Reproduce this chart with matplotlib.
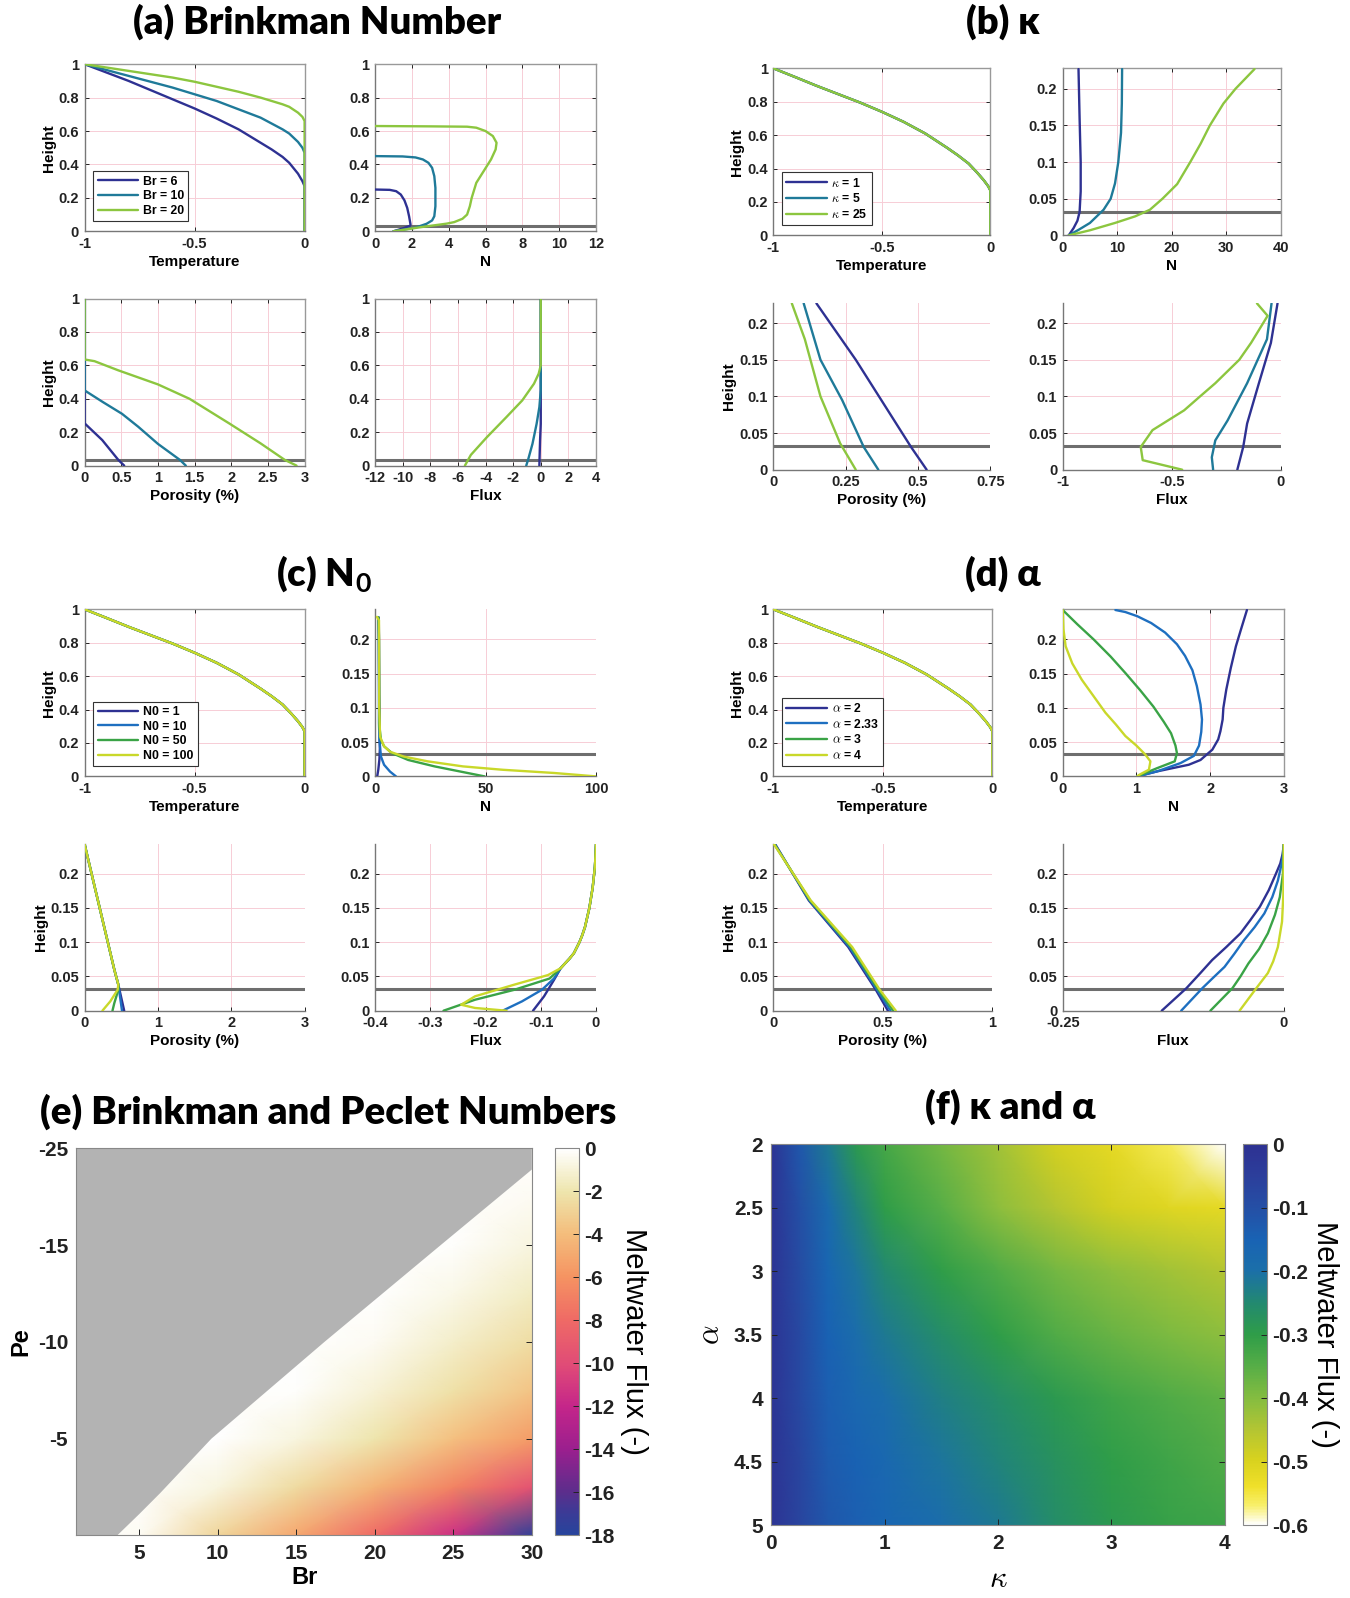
import matplotlib
matplotlib.use('Agg')
import matplotlib.pyplot as plt
import numpy as np
from matplotlib.colors import LinearSegmentedColormap

# ------------------------------------------------------------------ DATA
# (a) Brinkman number
a_labels = ['Br = 6', 'Br = 10', 'Br = 20']
a_temp = [
    [(-1, 1), (-0.8, 0.9), (-0.6, 0.79), (-0.5, 0.735), (-0.4, 0.675), (-0.3, 0.61),
     (-0.2, 0.53), (-0.15, 0.49), (-0.1, 0.445), (-0.07, 0.41), (-0.03, 0.345),
     (-0.01, 0.3), (0, 0.27), (0, 0)],
    [(-1, 1), (-0.8, 0.93), (-0.6, 0.86), (-0.5, 0.82), (-0.4, 0.78), (-0.3, 0.73),
     (-0.2, 0.68), (-0.15, 0.645), (-0.1, 0.61), (-0.07, 0.585), (-0.03, 0.535),
     (-0.01, 0.5), (0, 0.47), (0, 0)],
    [(-1, 1), (-0.8, 0.96), (-0.6, 0.92), (-0.5, 0.895), (-0.4, 0.865), (-0.3, 0.835),
     (-0.2, 0.8), (-0.15, 0.78), (-0.1, 0.76), (-0.07, 0.745), (-0.03, 0.71),
     (-0.01, 0.685), (0, 0.66), (0, 0)],
]
a_N = [
    [(0, 0.25), (0.8, 0.248), (1.15, 0.24), (1.4, 0.22), (1.6, 0.185), (1.75, 0.14),
     (1.85, 0.09), (1.93, 0.04), (1.9, 0.033), (1.5, 0.017), (1.0, 0.0)],
    [(0, 0.45), (1.5, 0.448), (2.2, 0.442), (2.6, 0.43), (2.9, 0.41), (3.1, 0.38),
     (3.22, 0.33), (3.28, 0.26), (3.28, 0.15), (3.22, 0.09), (3.1, 0.065), (2.8, 0.045),
     (2.2, 0.022), (1.0, 0.0)],
    [(0, 0.63), (3, 0.628), (5, 0.626), (5.5, 0.62), (6.0, 0.6), (6.4, 0.57), (6.6, 0.53),
     (6.55, 0.49), (6.3, 0.43), (5.9, 0.36), (5.5, 0.29), (5.25, 0.2), (5.15, 0.15),
     (5.0, 0.1), (4.75, 0.075), (4.3, 0.055), (3.9, 0.046), (2.5, 0.025), (1.0, 0.0)],
]
a_por = [
    [(0, 1), (0, 0.253), (0.24, 0.153), (0.46, 0.034), (0.54, 0)],
    [(0, 1), (0, 0.45), (0.25, 0.38), (0.51, 0.31), (0.73, 0.233), (1.0, 0.13),
     (1.3, 0.034), (1.38, 0)],
    [(0, 1), (0, 0.635), (0.135, 0.625), (0.46, 0.57), (1.0, 0.486), (1.43, 0.40),
     (1.97, 0.253), (2.4, 0.133), (2.73, 0.034), (2.89, 0)],
]
a_flux = [
    [(0, 1), (0, 0.25), (-0.05, 0.15), (-0.1, 0)],
    [(0, 1), (0, 0.45), (-0.1, 0.35), (-0.3, 0.25), (-0.6, 0.13), (-0.9, 0.04), (-1.05, 0)],
    [(0, 1), (0, 0.6), (-0.15, 0.55), (-0.49, 0.49), (-1.34, 0.39), (-2.49, 0.29),
     (-3.9, 0.17), (-5.06, 0.064), (-5.49, 0)],
]

# shared temperature profile of panels (b), (c), (d)
temp_common = [(-1, 1), (-0.9, 0.948), (-0.8, 0.895), (-0.7, 0.845), (-0.6, 0.795),
               (-0.5, 0.74), (-0.4, 0.68), (-0.3, 0.61), (-0.2, 0.525), (-0.15, 0.48),
               (-0.1, 0.43), (-0.06, 0.375), (-0.03, 0.33), (-0.01, 0.295), (0, 0.27), (0, 0)]

# (b) kappa
b_labels = [r'$\kappa$ = 1', r'$\kappa$ = 5', r'$\kappa$ = 25']
b_N = [
    [(1.1, 0), (2, 0.01), (2.7, 0.02), (3.1, 0.032), (3.3, 0.06), (3.3, 0.1), (3.1, 0.16), (2.9, 0.227)],
    [(1.1, 0), (3, 0.008), (5, 0.017), (7.5, 0.035), (8.8, 0.05), (9.6, 0.071), (10.2, 0.1),
     (10.7, 0.14), (10.85, 0.18), (10.9, 0.227)],
    [(1.1, 0), (5, 0.007), (9.6, 0.017), (13.3, 0.026), (16, 0.035), (18.3, 0.05), (21, 0.07),
     (23.4, 0.1), (25.3, 0.125), (27, 0.15), (29.5, 0.18), (31.7, 0.2), (35.2, 0.227)],
]
b_por = [
    [(0.149, 0.227), (0.285, 0.15), (0.476, 0.031), (0.53, 0)],
    [(0.105, 0.227), (0.163, 0.15), (0.238, 0.095), (0.3125, 0.031), (0.363, 0)],
    [(0.064, 0.227), (0.109, 0.178), (0.163, 0.1), (0.231, 0.036), (0.285, 0)],
]
b_flux = [
    [(-0.0145, 0.227), (-0.045, 0.173), (-0.1, 0.118), (-0.154, 0.063), (-0.172, 0.031), (-0.199, 0)],
    [(-0.042, 0.227), (-0.063, 0.178), (-0.154, 0.118), (-0.244, 0.067), (-0.3, 0.04),
     (-0.316, 0.017), (-0.31, 0)],
    [(-0.109, 0.227), (-0.06, 0.21), (-0.136, 0.173), (-0.19, 0.15), (-0.3, 0.118),
     (-0.37, 0.1), (-0.443, 0.081), (-0.588, 0.054), (-0.642, 0.031), (-0.633, 0.013), (-0.452, 0)],
]

# (c) N0
c_labels = ['N0 = 1', 'N0 = 10', 'N0 = 50', 'N0 = 100']
c_N = [
    [(1, 0), (1.5, 0.01), (2, 0.025), (2.2, 0.04), (2.1, 0.07), (1.9, 0.12), (1.8, 0.2), (1.7, 0.232)],
    [(9.5, 0), (6.8, 0.007), (4.1, 0.017), (2.7, 0.029), (2.0, 0.053), (1.8, 0.078), (1.7, 0.2), (1.6, 0.232)],
    [(49.6, 0), (27, 0.0146), (15, 0.024), (7.7, 0.034), (4.1, 0.044), (2.7, 0.053), (2.0, 0.073),
     (1.8, 0.2), (1.6, 0.232)],
    [(100, 0), (81, 0.005), (57.7, 0.0097), (39.8, 0.0146), (23.8, 0.022), (13, 0.029),
     (6.8, 0.036), (4.1, 0.044), (2.3, 0.058), (1.9, 0.1), (1.8, 0.228), (0.9, 0.233)],
]
c_por = [
    [(0, 0.243), (0.405, 0.06), (0.46, 0.038), (0.54, 0)],
    [(0, 0.243), (0.405, 0.06), (0.46, 0.038), (0.51, 0)],
    [(0, 0.243), (0.405, 0.06), (0.46, 0.038), (0.46, 0.0305), (0.405, 0.011), (0.38, 0)],
    [(0, 0.243), (0.405, 0.06), (0.46, 0.038), (0.45, 0.0305), (0.35, 0.0136), (0.243, 0)],
]
c_flux_top = [(0, 0.243), (-0.001, 0.225), (-0.002, 0.21), (-0.004, 0.195), (-0.006, 0.18),
              (-0.009, 0.165), (-0.012, 0.15), (-0.016, 0.136), (-0.02, 0.122), (-0.025, 0.11),
              (-0.03, 0.1), (-0.04, 0.084), (-0.048, 0.076), (-0.055, 0.07), (-0.064, 0.062)]
c_flux_bottom = [
    [(-0.076, 0.045), (-0.094, 0.021), (-0.114, 0)],
    [(-0.076, 0.047), (-0.098, 0.0305), (-0.134, 0.0136), (-0.169, 0)],
    [(-0.084, 0.047), (-0.148, 0.0305), (-0.219, 0.016), (-0.276, 0)],
    [(-0.087, 0.052), (-0.148, 0.038), (-0.219, 0.021), (-0.244, 0.0087), (-0.219, 0.004), (-0.162, 0)],
]

# (d) alpha
d_labels = [r'$\alpha$ = 2', r'$\alpha$ = 2.33', r'$\alpha$ = 3', r'$\alpha$ = 4']
d_N = [
    [(2.5, 0.243), (2.42, 0.215), (2.35, 0.19), (2.28, 0.158), (2.22, 0.127), (2.18, 0.1),
     (2.17, 0.083), (2.14, 0.066), (2.11, 0.054), (2.03, 0.039), (1.87, 0.024), (1.71, 0.017),
     (1.28, 0.0073), (1.01, 0)],
    [(0.715, 0.243), (0.85, 0.24), (1.01, 0.234), (1.2, 0.224), (1.39, 0.21), (1.55, 0.193),
     (1.66, 0.176), (1.76, 0.155), (1.82, 0.132), (1.87, 0.105), (1.89, 0.083), (1.88, 0.065),
     (1.85, 0.045), (1.78, 0.03), (1.6, 0.0195), (1.28, 0.0073), (1.01, 0)],
    [(0, 0.243), (0.2, 0.222), (0.42, 0.2), (0.65, 0.175), (0.85, 0.151), (1.05, 0.126),
     (1.23, 0.102), (1.37, 0.08), (1.47, 0.063), (1.53, 0.045), (1.55, 0.034), (1.52, 0.022),
     (1.28, 0.012), (1.01, 0)],
    [(0, 0.243), (0.01, 0.215), (0.04, 0.19), (0.13, 0.165), (0.26, 0.141), (0.42, 0.117),
     (0.58, 0.093), (0.72, 0.076), (0.85, 0.059), (1.0, 0.045), (1.12, 0.032), (1.19, 0.022),
     (1.17, 0.0098), (1.04, 0.0024), (1.01, 0)],
]
d_por = [
    [(0.009, 0.243), (0.162, 0.161), (0.342, 0.093), (0.468, 0.0305), (0.523, 0)],
    [(0.007, 0.243), (0.165, 0.161), (0.348, 0.093), (0.474, 0.0305), (0.535, 0)],
    [(0.005, 0.243), (0.168, 0.161), (0.354, 0.093), (0.48, 0.0305), (0.547, 0)],
    [(0.003, 0.243), (0.171, 0.161), (0.36, 0.093), (0.486, 0.0305), (0.559, 0)],
]
d_flux = [
    [(0, 0.243), (-0.0013, 0.229), (-0.004, 0.215), (-0.0089, 0.2), (-0.017, 0.176),
     (-0.027, 0.152), (-0.038, 0.132), (-0.049, 0.113), (-0.065, 0.093), (-0.081, 0.074),
     (-0.095, 0.054), (-0.11, 0.033), (-0.138, 0)],
    [(0, 0.243), (-0.0015, 0.22), (-0.0067, 0.19), (-0.013, 0.166), (-0.022, 0.142),
     (-0.033, 0.122), (-0.045, 0.103), (-0.056, 0.083), (-0.067, 0.064), (-0.08, 0.048),
     (-0.092, 0.033), (-0.116, 0)],
    [(0, 0.243), (-0.001, 0.2), (-0.0045, 0.166), (-0.01, 0.14), (-0.018, 0.113),
     (-0.028, 0.09), (-0.04, 0.069), (-0.049, 0.05), (-0.058, 0.033), (-0.083, 0)],
    [(0, 0.243), (-0.0005, 0.17), (-0.002, 0.13), (-0.0067, 0.093), (-0.012, 0.072),
     (-0.018, 0.055), (-0.031, 0.033), (-0.05, 0)],
]

# (e) Brinkman / Peclet heat map
e_Br = [1, 5, 10, 15, 20, 25, 30]
e_Pe = [0, -2.5, -5, -7.5, -10, -12.5, -15, -17.5, -20]
e_flux = [
    [0, -0.3, -2.8, -5.0, -8.0, -11.5, -17.5],
    [0, 0, -0.8, -2.5, -4.5, -6.8, -9.5],
    [0, 0, 0, -0.8, -2.0, -3.8, -5.6],
    [0, 0, 0, -0.1, -1.0, -2.2, -3.6],
    [0, 0, 0, 0, -0.3, -1.3, -2.4],
    [0, 0, 0, 0, 0, -0.6, -1.5],
    [0, 0, 0, 0, 0, -0.1, -0.8],
    [0, 0, 0, 0, 0, 0, -0.3],
    [0, 0, 0, 0, 0, 0, 0],
]
e_boundary = [(3.6, 0), (5.0, -1.1), (6.34, -2.19), (9.6, -5), (16.8, -10), (24.2, -15), (30, -18.9)]

# (f) kappa / alpha heat map
f_kappa = [0, 0.25, 0.5, 0.75, 1, 1.5, 2, 2.5, 3, 3.5, 4]
f_alpha = [2, 2.5, 3, 3.5, 4, 4.5, 5]
f_flux = [
    [-0.01, -0.12, -0.22, -0.29, -0.33, -0.38, -0.43, -0.49, -0.52, -0.56, -0.60],
    [-0.01, -0.10, -0.18, -0.24, -0.30, -0.35, -0.41, -0.45, -0.49, -0.51, -0.52],
    [-0.01, -0.09, -0.16, -0.21, -0.25, -0.30, -0.34, -0.38, -0.41, -0.43, -0.45],
    [-0.01, -0.08, -0.15, -0.19, -0.22, -0.26, -0.30, -0.34, -0.37, -0.39, -0.41],
    [-0.01, -0.08, -0.14, -0.17, -0.19, -0.23, -0.26, -0.29, -0.32, -0.34, -0.36],
    [-0.01, -0.07, -0.13, -0.15, -0.17, -0.21, -0.24, -0.27, -0.30, -0.32, -0.34],
    [-0.01, -0.07, -0.12, -0.14, -0.16, -0.19, -0.22, -0.26, -0.29, -0.31, -0.32],
]

# ------------------------------------------------------------------ STYLE
col3 = ['#2e3192', '#1f7a99', '#8cc63f']
col4 = ['#2e3192', '#1e6fc0', '#3aa346', '#c9d82a']
GRID = '#f7cdd6'
TICKF = ['Liberation Sans', 'DejaVu Sans']
TITLEF = ['Lato', 'Open Sans', 'DejaVu Sans']
plt.rcParams['font.family'] = TICKF
plt.rcParams['mathtext.fontset'] = 'cm'
plt.rcParams['mathtext.rm'] = 'Lato:bold'
plt.rcParams['mathtext.bf'] = 'Lato:bold'
plt.rcParams['mathtext.it'] = 'Lato:italic:bold'

W, H = 1350, 1598
fig = plt.figure(figsize=(W / 100, H / 100), dpi=100)


def ax_at(x0, x1, y0, y1):
    return fig.add_axes([x0 / W, 1 - y1 / H, (x1 - x0) / W, (y1 - y0) / H])


def xy(pts):
    return [p[0] for p in pts], [p[1] for p in pts]


def style(ax, xlim, xticks, ylim, yticks, xlabel, ylabel=None, box=True, ylabelpad=2):
    ax.set_xlim(xlim)
    ax.set_ylim(ylim)
    ax.set_xticks(xticks)
    ax.set_yticks(yticks)
    ax.set_xticklabels([f'{v:g}' for v in xticks], fontweight='bold', fontsize=10.5)
    ax.set_yticklabels([f'{v:g}' for v in yticks], fontweight='bold', fontsize=10.5)
    ax.grid(True, color=GRID, lw=0.7)
    ax.set_axisbelow(True)
    ax.tick_params(direction='in', length=3, width=0.7, pad=4, colors='#222222',
                   top=box, right=box)
    for s in ['left', 'bottom']:
        ax.spines[s].set_color('#777777')
        ax.spines[s].set_linewidth(1.0)
    for s in ['top', 'right']:
        ax.spines[s].set_visible(box)
        ax.spines[s].set_color('#999999')
        ax.spines[s].set_linewidth(1.0)
    ax.set_xlabel(xlabel, fontweight='bold', fontsize=11, labelpad=3)
    if ylabel:
        ax.set_ylabel(ylabel, fontweight='bold', fontsize=11, labelpad=ylabelpad)


def draw(ax, series, colors, labels=None):
    for i, pts in enumerate(series):
        x, y = xy(pts)
        ax.plot(x, y, color=colors[i], lw=1.7, label=(labels[i] if labels else None),
                solid_joinstyle='round', solid_capstyle='round', zorder=3)


def legend(ax):
    lg = ax.legend(loc='lower left', bbox_to_anchor=(0.04, 0.06), fancybox=False,
                   edgecolor='#333333', framealpha=1, prop={'weight': 'bold', 'size': 8.8},
                   handlelength=3.3, borderpad=0.35, labelspacing=0.22, handletextpad=0.4,
                   borderaxespad=0)
    lg.get_frame().set_linewidth(0.8)


GLINE = 0.032
Y1 = [0, 0.2, 0.4, 0.6, 0.8, 1]
Y2 = [0, 0.05, 0.1, 0.15, 0.2]

# ---------------- (a)
ax = ax_at(84.6, 304.6, 64.2, 231.3)
draw(ax, a_temp, col3, a_labels)
style(ax, (-1, 0), [-1, -0.5, 0], (0, 1), Y1, 'Temperature', 'Height')
legend(ax)

ax = ax_at(375, 596, 64.2, 231.3)
draw(ax, a_N, col3)
ax.axhline(GLINE, color='#6e6e6e', lw=2.2, zorder=2)
style(ax, (0, 12), list(range(0, 13, 2)), (0, 1), Y1, 'N')

ax = ax_at(84.6, 304.6, 298.5, 465.6)
draw(ax, a_por, col3)
ax.axhline(GLINE, color='#6e6e6e', lw=2.2, zorder=2)
style(ax, (0, 3), [0, 0.5, 1, 1.5, 2, 2.5, 3], (0, 1), Y1, 'Porosity (%)', 'Height')

ax = ax_at(375, 596, 298.5, 465.6)
draw(ax, a_flux, col3)
ax.axhline(GLINE, color='#6e6e6e', lw=2.2, zorder=2)
style(ax, (-12, 4), list(range(-12, 5, 2)), (0, 1), Y1, 'Flux')

# ---------------- (b)
ax = ax_at(773.3, 990.3, 68.3, 235.4)
draw(ax, [temp_common] * 3, col3, b_labels)
style(ax, (-1, 0), [-1, -0.5, 0], (0, 1), Y1, 'Temperature', 'Height')
legend(ax)

ax = ax_at(1062.7, 1280.7, 68.3, 235.4)
draw(ax, b_N, col3)
ax.axhline(GLINE, color='#6e6e6e', lw=2.2, zorder=2)
style(ax, (0, 40), [0, 10, 20, 30, 40], (0, 0.228), Y2, 'N')

ax = ax_at(773.3, 990.3, 302.6, 469.7)
draw(ax, b_por, col3)
ax.axhline(GLINE, color='#6e6e6e', lw=2.2, zorder=2)
style(ax, (0, 0.75), [0, 0.25, 0.5, 0.75], (0, 0.228), Y2, 'Porosity (%)', 'Height', box=False)

ax = ax_at(1062.7, 1280.7, 302.6, 469.7)
draw(ax, b_flux, col3)
ax.axhline(GLINE, color='#6e6e6e', lw=2.2, zorder=2)
style(ax, (-1, 0), [-1, -0.5, 0], (0, 0.228), Y2, 'Flux', box=False)

# ---------------- (c)
ax = ax_at(84.6, 304.6, 609.3, 776.4)
draw(ax, [temp_common] * 4, col4, c_labels)
style(ax, (-1, 0), [-1, -0.5, 0], (0, 1), Y1, 'Temperature', 'Height')
legend(ax)

ax = ax_at(375, 596, 609.3, 776.4)
draw(ax, c_N, col4)
ax.axhline(GLINE, color='#6e6e6e', lw=2.2, zorder=2)
style(ax, (0, 100), [0, 50, 100], (0, 0.244), Y2, 'N', box=False)

ax = ax_at(84.6, 304.6, 843.6, 1010.7)
draw(ax, c_por, col4)
ax.axhline(GLINE, color='#6e6e6e', lw=2.2, zorder=2)
style(ax, (0, 3), [0, 1, 2, 3], (0, 0.244), Y2, 'Porosity (%)', 'Height', box=False)

ax = ax_at(375, 596, 843.6, 1010.7)
draw(ax, [c_flux_top + tail for tail in c_flux_bottom], col4)
ax.axhline(GLINE, color='#6e6e6e', lw=2.2, zorder=2)
style(ax, (-0.4, 0), [-0.4, -0.3, -0.2, -0.1, 0], (0, 0.244), Y2, 'Flux', box=False)

# ---------------- (d)
ax = ax_at(773.3, 992.4, 609.3, 776.4)
draw(ax, [temp_common] * 4, col4, d_labels)
style(ax, (-1, 0), [-1, -0.5, 0], (0, 1), Y1, 'Temperature', 'Height')
legend(ax)

ax = ax_at(1062.7, 1283.8, 609.3, 776.4)
draw(ax, d_N, col4)
ax.axhline(GLINE, color='#6e6e6e', lw=2.2, zorder=2)
style(ax, (0, 3), [0, 1, 2, 3], (0, 0.244), Y2, 'N')

ax = ax_at(773.3, 992.4, 843.6, 1010.7)
draw(ax, d_por, col4)
ax.axhline(GLINE, color='#6e6e6e', lw=2.2, zorder=2)
style(ax, (0, 1), [0, 0.5, 1], (0, 0.244), Y2, 'Porosity (%)', 'Height', box=False)

ax = ax_at(1062.7, 1283.8, 843.6, 1010.7)
draw(ax, d_flux, col4)
ax.axhline(GLINE, color='#6e6e6e', lw=2.2, zorder=2)
style(ax, (-0.25, 0), [-0.25, 0], (0, 0.244), Y2, 'Flux', box=False)

# ---------------- titles
tkw = dict(fontsize=27.5, fontweight='heavy', family=TITLEF, ha='center', va='center')
fig.text(317 / W, 1 - 22 / H, '(a) Brinkman Number', **tkw)
fig.text(1003 / W, 1 - 22 / H, '(b) κ', **tkw)
fig.text(324 / W, 1 - 574 / H, r'(c) N$_{\mathrm{0}}$', math_fontfamily='custom', **tkw)
fig.text(1003 / W, 1 - 574 / H, '(d) α', **tkw)
fig.text(328 / W, 1 - 1112 / H, '(e) Brinkman and Peclet Numbers', **tkw)
fig.text(1010 / W, 1 - 1107 / H, '(f) κ and α', **tkw)

# ---------------- (e) heat map
cmap_e = LinearSegmentedColormap.from_list('e', [
    (0.0, '#27449c'), (0.056, '#3b3b96'), (0.11, '#5b2e8c'), (0.22, '#9a1f8e'),
    (0.33, '#c4258a'), (0.44, '#e04b77'), (0.56, '#ef6b65'), (0.67, '#f59462'),
    (0.78, '#f4bd7c'), (0.89, '#eee5ad'), (1.0, '#ffffff')])
ax = ax_at(76.4, 531.8, 1148.3, 1535.4)
ax.set_facecolor('#b3b3b3')
pm = ax.pcolormesh(e_Br, e_Pe, np.array(e_flux), shading='gouraud', cmap=cmap_e, vmin=-18, vmax=0,
                   rasterized=True)
bx, by = xy(e_boundary)
ax.fill([1] + bx + [30, 1], [0] + by + [-20, -20], color='#b3b3b3', lw=0, zorder=2)
ax.set_xlim(1, 30)
ax.set_ylim(0, -20)
ax.set_xticks([5, 10, 15, 20, 25, 30])
ax.set_xticklabels(['5', '10', '15', '20', '25', '30'], fontweight='bold', fontsize=15)
ax.set_yticks([-20, -15, -10, -5])
ax.set_yticklabels(['-25', '-15', '-10', '-5'], fontweight='bold', fontsize=15)
ax.tick_params(direction='in', length=4, width=0.7, top=True, right=True, pad=6, colors='#222222')
for s in ax.spines.values():
    s.set_color('#888888')
    s.set_linewidth(0.8)
    s.set_zorder(3)
ax.set_xlabel('Br', fontweight='bold', fontsize=17, labelpad=2)
ax.set_ylabel('Pe', fontweight='bold', fontsize=17, labelpad=4)

cax = ax_at(555.3, 578.7, 1148.3, 1535.4)
cb = fig.colorbar(pm, cax=cax, ticks=list(range(-18, 1, 2)))
cb.ax.set_yticklabels([f'{v}' for v in range(-18, 1, 2)], fontweight='bold', fontsize=15)
cb.ax.tick_params(direction='in', length=4, width=0.7, pad=4, colors='#222222')
cb.outline.set_edgecolor('#888888')
cb.outline.set_linewidth(0.8)
cb.set_label('Meltwater Flux (-)', rotation=270, fontsize=21, labelpad=24)

# ---------------- (f) heat map
cmap_f = LinearSegmentedColormap.from_list('f', [
    (0.0, '#ffffff'), (0.05, '#f8ef6a'), (0.1, '#f0e02a'), (0.17, '#d8d21e'),
    (0.25, '#b3c533'), (0.33, '#86bd40'), (0.42, '#55ad47'), (0.5, '#2f9d48'),
    (0.58, '#238a6e'), (0.67, '#1b6fa9'), (0.75, '#1963b4'), (0.83, '#2450a6'),
    (0.92, '#2c3e9b'), (1.0, '#2d3192')])
ax = ax_at(771.3, 1224.7, 1144.2, 1525.2)
pm = ax.pcolormesh(f_kappa, f_alpha, np.array(f_flux), shading='gouraud', cmap=cmap_f,
                   vmin=-0.6, vmax=0, rasterized=True)
ax.set_xlim(0, 4)
ax.set_ylim(5, 2)
ax.set_xticks([0, 1, 2, 3, 4])
ax.set_xticklabels(['0', '1', '2', '3', '4'], fontweight='bold', fontsize=15)
yt = [2, 2.5, 3, 3.5, 4, 4.5, 5]
ax.set_yticks(yt)
ax.set_yticklabels([f'{v:g}' for v in yt], fontweight='bold', fontsize=15)
ax.tick_params(direction='in', length=4, width=0.7, top=True, right=True, pad=6, colors='#222222')
for s in ax.spines.values():
    s.set_color('#888888')
    s.set_linewidth(0.8)
ax.set_xlabel(r'$\kappa$', fontsize=22, labelpad=8)
ax.set_ylabel(r'$\alpha$', fontsize=22, labelpad=6)

cax = ax_at(1243, 1266.5, 1144.2, 1525.2)
cb = fig.colorbar(pm, cax=cax, ticks=[-0.6, -0.5, -0.4, -0.3, -0.2, -0.1, 0])
cb.ax.set_yticklabels(['-0.6', '-0.5', '-0.4', '-0.3', '-0.2', '-0.1', '0'],
                      fontweight='bold', fontsize=15)
cb.ax.tick_params(direction='in', length=4, width=0.7, pad=4, colors='#222222')
cb.outline.set_edgecolor('#888888')
cb.outline.set_linewidth(0.8)
cb.set_label('Meltwater Flux (-)', rotation=270, fontsize=21, labelpad=22)

fig.savefig('out.png', dpi=100)
